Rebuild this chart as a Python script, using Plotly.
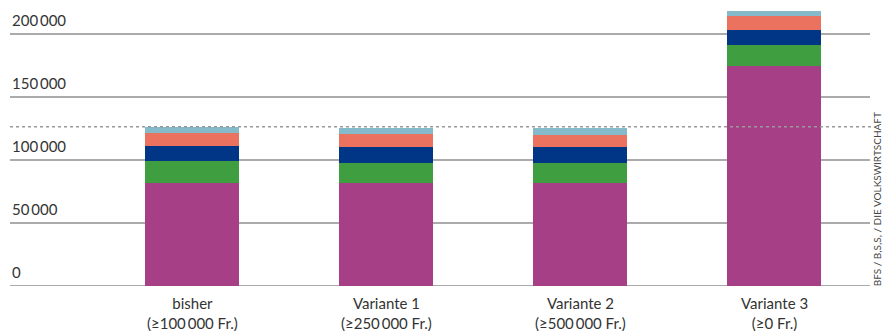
import plotly.graph_objects as go

categories = ["bisher<br>(≥100\u2009000 Fr.)", "Variante 1<br>(≥250\u2009000 Fr.)",
              "Variante 2<br>(≥500\u2009000 Fr.)", "Variante 3<br>(≥0 Fr.)"]
s_magenta = [81700, 81700, 81700, 174600]
s_green = [17300, 15700, 15700, 16400]
s_blue = [11900, 12700, 12700, 11900]
s_orange = [10500, 10500, 9500, 11400]
s_lightblue = [5100, 4800, 5800, 3700]
reference_total = 126300
tick_vals = [0, 50000, 100000, 150000, 200000]
tick_text = ["0", "50\u2009000", "100\u2009000", "150\u2009000", "200\u2009000"]
source = "BFS / B,S,S, / DIE VOLKSWIRTSCHAFT"

series = [
    (s_magenta, "#A63F86"),
    (s_green, "#3F9E3F"),
    (s_blue, "#003685"),
    (s_orange, "#EA725E"),
    (s_lightblue, "#84BACA"),
]

xs = list(range(len(categories)))
fig = go.Figure()
for vals, col in series:
    fig.add_trace(go.Bar(x=xs, y=vals, marker=dict(color=col, line=dict(width=0)),
                         width=0.485, showlegend=False, hoverinfo="y"))

for v in tick_vals:
    fig.add_shape(type="line", xref="paper", yref="y", x0=0, x1=1, y0=v, y1=v,
                  line=dict(color="#ababab", width=2), layer="below")
    
fig.add_shape(type="line", xref="paper", yref="y", x0=0, x1=1.003,
              y0=reference_total, y1=reference_total,
              line=dict(color="#999999", width=1.5, dash="dot"), layer="above")

annotations = []
for v, t in zip(tick_vals, tick_text):
    annotations.append(dict(x=0, xref="paper", y=v, yref="y", text=t, showarrow=False,
                            xanchor="left", yanchor="bottom", yshift=3,
                            font=dict(family="Lato", size=15, color="#333333")))
for i, c in enumerate(categories):
    annotations.append(dict(x=i, xref="x", y=0, yref="y", text=c, showarrow=False,
                            xanchor="center", yanchor="top", yshift=-6,
                            font=dict(family="Lato", size=15, color="#333333")))
annotations.append(dict(x=877, xref="paper" if False else "paper", y=0.5, yref="paper",
                        text=source, showarrow=False, textangle=-90))
annotations[-1].update(dict(x=1.008, xanchor="center", y=199 / 331, yanchor="middle",
                            font=dict(family="Lato", size=10, color="#444444")))
# fix y for source to be in paper coords of plot area
annotations[-1]["y"] = (285.7 - 199) / 281

fig.update_layout(
    width=883, height=331,
    margin=dict(l=10, r=13, t=5, b=45),
    paper_bgcolor="white", plot_bgcolor="white",
    barmode="stack", bargap=0,
    xaxis=dict(range=[-0.94, 3.495], showgrid=False, zeroline=False,
               showticklabels=False, fixedrange=True),
    yaxis=dict(range=[0, 281 / 1.26 * 1000], showgrid=False, zeroline=False,
               showticklabels=False, fixedrange=True),
    annotations=annotations,
)

fig.write_html("out.html")
